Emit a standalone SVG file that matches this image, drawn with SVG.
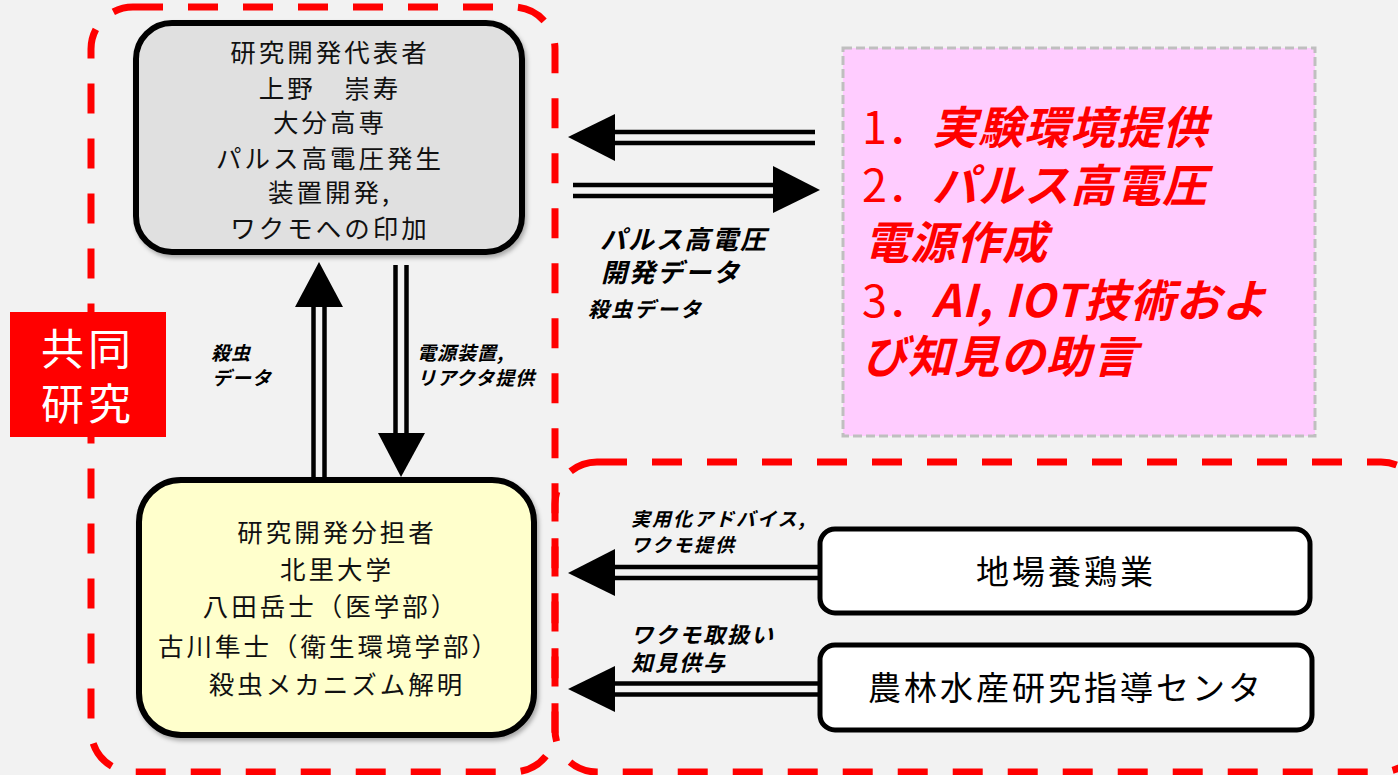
<svg xmlns="http://www.w3.org/2000/svg" width="1398" height="775" viewBox="0 0 1398 775">
<defs>
<filter id="sh" x="-10%" y="-10%" width="120%" height="120%">
<feDropShadow dx="2" dy="3" stdDeviation="2" flood-color="#000" flood-opacity="0.3"/>
</filter>
</defs>
<style>
.frame{fill:none;stroke:#ff0000;stroke-width:7;stroke-dasharray:30 25}
.jp{font-family:"Noto Sans CJK JP","Noto Sans",sans-serif}
.nt{font-size:25.5px;letter-spacing:3px;fill:#111;text-anchor:middle}
.lbl{font-weight:bold;font-style:italic;fill:#000}
.ln{stroke:#000;stroke-width:4.5;fill:none}
.hd{fill:#000}
.red{fill:#ff0000;font-size:45px;font-weight:bold;letter-spacing:1px}
.box{fill:#fff;stroke:#000;stroke-width:5}
</style>
<rect x="0" y="0" width="1398" height="775" fill="#f2f2f2"/>
<g id="frames">
<rect class="frame" x="91" y="7" width="464" height="765" rx="42"/>
<rect class="frame" x="555" y="462" width="868" height="310" rx="42"/>
</g>
<g id="kyodo">
<rect x="10" y="312" width="156" height="125" fill="#ff0000"/>
<text class="jp" x="88" y="365" font-size="43" fill="#fff" text-anchor="middle" letter-spacing="4">共同</text>
<text class="jp" x="88" y="420" font-size="43" fill="#fff" text-anchor="middle" letter-spacing="4">研究</text>
</g>
<g id="node-ueno">
<rect x="136" y="23" width="386" height="229" rx="36" fill="#e0e0e0" stroke="#000" stroke-width="6" filter="url(#sh)"/>
<text class="jp nt" x="330" y="62">研究開発代表者</text>
<text class="jp nt" x="330" y="98">上野　崇寿</text>
<text class="jp nt" x="330" y="132">大分高専</text>
<text class="jp nt" x="330" y="168">パルス高電圧発生</text>
<text class="jp nt" x="330" y="202">装置開発,</text>
<text class="jp nt" x="330" y="238">ワクモへの印加</text>
</g>
<g id="node-kitasato">
<rect x="139" y="480" width="395" height="255" rx="42" fill="#ffffcc" stroke="#000" stroke-width="6" filter="url(#sh)"/>
<text class="jp nt" x="337" y="542">研究開発分担者</text>
<text class="jp nt" x="337" y="579">北里大学</text>
<text class="jp nt" x="331" y="616">八田岳士（医学部）</text>
<text class="jp nt" x="329" y="656" letter-spacing="1">古川隼士（衛生環境学部）</text>
<text class="jp nt" x="337" y="694">殺虫メカニズム解明</text>
</g>
<g id="node-advice">
<rect x="843" y="48" width="472" height="388" fill="#ffccff" stroke="#bfbfbf" stroke-width="3" stroke-dasharray="9 4"/>
<text class="jp red" x="862" y="144"><tspan font-weight="normal" letter-spacing="0">1．</tspan><tspan font-style="italic">実験環境提供</tspan></text>
<text class="jp red" x="862" y="202"><tspan font-weight="normal" letter-spacing="0">2．</tspan><tspan font-style="italic">パルス高電圧</tspan></text>
<text class="jp red" x="864" y="259" font-style="italic">電源作成</text>
<text class="jp red" x="862" y="317"><tspan font-weight="normal" letter-spacing="0">3．</tspan><tspan font-style="italic">AI, IOT技術およ</tspan></text>
<text class="jp red" x="862" y="373" font-style="italic">び知見の助言</text>
</g>
<g id="node-farm">
<rect class="box" x="820" y="529" width="490" height="84" rx="15"/>
<text class="jp" x="1066" y="584" font-size="33" letter-spacing="3" text-anchor="middle" fill="#000">地場養鶏業</text>
</g>
<g id="node-center">
<rect class="box" x="820" y="645" width="492" height="85" rx="15"/>
<text class="jp" x="1066" y="700" font-size="33" letter-spacing="3" text-anchor="middle" fill="#000">農林水産研究指導センタ</text>
</g>
<g id="connectors">
<line class="ln" x1="612" y1="132" x2="815" y2="132"/>
<line class="ln" x1="612" y1="143" x2="815" y2="143"/>
<polygon class="hd" points="568,137 615,114 615,161"/>
<line class="ln" x1="573" y1="185" x2="776" y2="185"/>
<line class="ln" x1="573" y1="196" x2="776" y2="196"/>
<polygon class="hd" points="820,190 773,166 773,213"/>
<line class="ln" x1="313.5" y1="304" x2="313.5" y2="478"/>
<line class="ln" x1="324.5" y1="304" x2="324.5" y2="478"/>
<polygon class="hd" points="319,262 295,307 343,307"/>
<line class="ln" x1="395.5" y1="265" x2="395.5" y2="436"/>
<line class="ln" x1="406.5" y1="265" x2="406.5" y2="436"/>
<polygon class="hd" points="401,477 378,433 425,433"/>
<line class="ln" x1="612" y1="567" x2="818" y2="567"/>
<line class="ln" x1="612" y1="578" x2="818" y2="578"/>
<polygon class="hd" points="568,573 615,549 615,596"/>
<line class="ln" x1="612" y1="683.5" x2="818" y2="683.5"/>
<line class="ln" x1="612" y1="694.5" x2="818" y2="694.5"/>
<polygon class="hd" points="568,689 615,666 615,712"/>
</g>
<g id="labels">
<text class="jp lbl" x="600" y="249" font-size="26" letter-spacing="2">パルス高電圧</text>
<text class="jp lbl" x="601" y="282" font-size="26" letter-spacing="2">開発データ</text>
<text class="jp lbl" x="588" y="317" font-size="21" letter-spacing="2">殺虫データ</text>
<text class="jp lbl" x="211" y="360" font-size="19" letter-spacing="1">殺虫</text>
<text class="jp lbl" x="212" y="385" font-size="19" letter-spacing="1">データ</text>
<text class="jp lbl" x="417" y="360" font-size="19" letter-spacing="1">電源装置,</text>
<text class="jp lbl" x="417" y="385" font-size="19" letter-spacing="1">リアクタ提供</text>
<text class="jp lbl" x="631" y="526" font-size="19" letter-spacing="2">実用化アドバイス,</text>
<text class="jp lbl" x="631" y="552" font-size="19" letter-spacing="2">ワクモ提供</text>
<text class="jp lbl" x="631" y="643" font-size="22" letter-spacing="2">ワクモ取扱い</text>
<text class="jp lbl" x="631" y="671" font-size="22" letter-spacing="2">知見供与</text>
</g>
</svg>
